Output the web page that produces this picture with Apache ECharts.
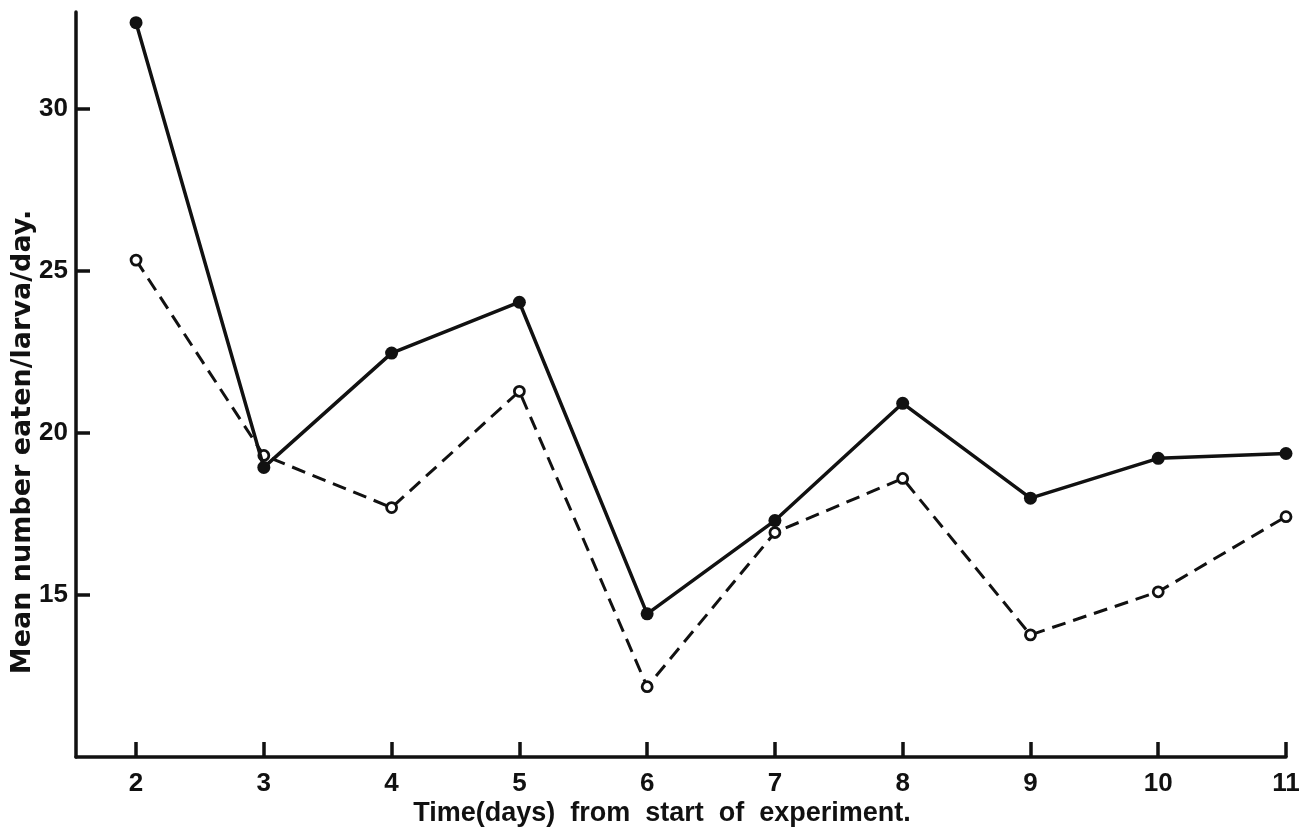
<!DOCTYPE html>
<html>
<head>
<meta charset="utf-8">
<script src="https://cdn.jsdelivr.net/npm/echarts@6/dist/echarts.min.js"></script>
<style>
html,body{margin:0;padding:0;background:#ffffff;}
#chart{width:1304px;height:837px;}
</style>
</head>
<body>
<div id="chart"></div>
<script>
const days = [2, 3, 4, 5, 6, 7, 8, 9, 10, 11];
const solidSeries = [32.67, 18.94, 22.47, 24.04, 14.42, 17.30, 20.92, 17.99, 19.22, 19.37];
const dashedSeries = [25.34, 19.31, 17.70, 21.29, 12.17, 16.93, 18.60, 13.77, 15.10, 17.42];
const xTickLabels = [2, 3, 4, 5, 6, 7, 8, 9, 10, 11];
const yTickLabels = [15, 20, 25, 30];
const xTitle = 'Time(days)  from  start  of  experiment.';
const yTitle = 'Mean number eaten/larva/day.';

const FONT = 'Liberation Sans';
const INK = '#111111';

const chart = echarts.init(document.getElementById('chart'), null, {renderer: 'canvas'});
chart.setOption({
  backgroundColor: '#ffffff',
  animation: false,
  grid: {left: 76, right: 18, top: 12, bottom: 80, containLabel: false},
  xAxis: {
    type: 'value',
    min: 1.53,
    max: 11,
    axisLine: {show: true, lineStyle: {color: INK, width: 3.5}},
    axisTick: {show: true, inside: true, length: 15, customValues: xTickLabels, lineStyle: {color: INK, width: 3.5}},
    axisLabel: {show: true, customValues: xTickLabels, margin: 14, color: INK, fontFamily: FONT, fontWeight: 'bold', fontSize: 26},
    splitLine: {show: false}
  },
  yAxis: {
    type: 'value',
    min: 10,
    max: 33,
    axisLine: {show: true, lineStyle: {color: INK, width: 3.5}},
    axisTick: {show: true, inside: true, length: 14, customValues: yTickLabels, lineStyle: {color: INK, width: 3.5}},
    axisLabel: {show: true, customValues: yTickLabels, margin: 8, color: INK, fontFamily: FONT, fontWeight: 'bold', fontSize: 26},
    splitLine: {show: false}
  },
  graphic: [
    {type: 'text', x: 662, y: 814, style: {text: xTitle, fill: INK, font: 'bold 27px "Liberation Sans"', align: 'center', verticalAlign: 'middle'}},
    {type: 'text', x: 23, y: 442, rotation: Math.PI / 2, style: {text: yTitle, fill: INK, font: 'bold 27px "DejaVu Sans"', align: 'center', verticalAlign: 'middle'}}
  ],
  series: [
    {
      type: 'line',
      data: days.map((d, i) => [d, dashedSeries[i]]),
      symbol: 'circle',
      symbolSize: 10,
      lineStyle: {color: INK, width: 3, type: [14, 8]},
      itemStyle: {color: '#ffffff', borderColor: INK, borderWidth: 2.8},
      z: 2
    },
    {
      type: 'line',
      data: days.map((d, i) => [d, solidSeries[i]]),
      symbol: 'circle',
      symbolSize: 13,
      lineStyle: {color: INK, width: 3.5},
      itemStyle: {color: INK, borderColor: INK, borderWidth: 0},
      z: 3
    }
  ]
});
</script>
</body>
</html>
